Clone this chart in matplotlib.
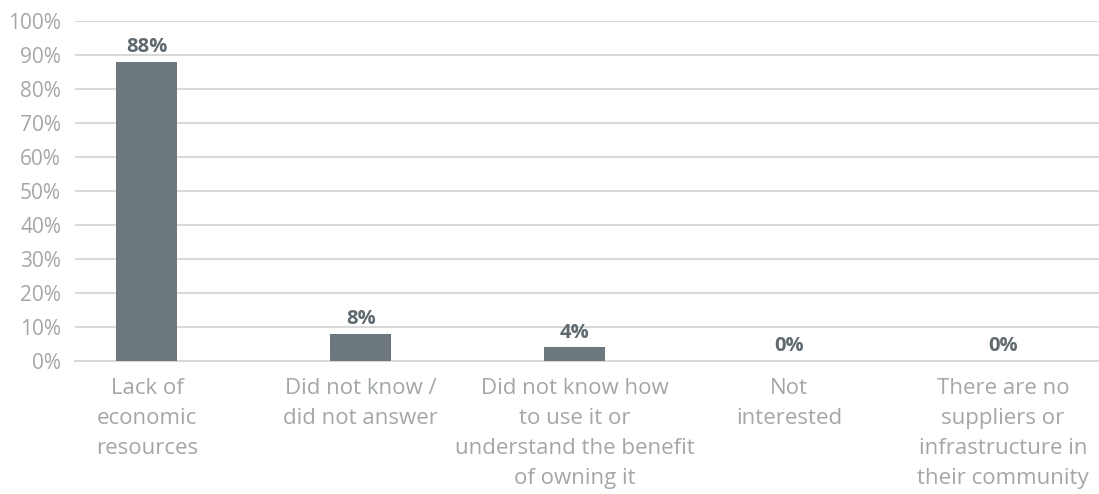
import matplotlib.pyplot as plt
import numpy as np

plt.rcParams['font.family'] = ['Open Sans', 'DejaVu Sans']

categories = ['Lack of\neconomic\nresources',
              'Did not know /\ndid not answer',
              'Did not know how\nto use it or\nunderstand the benefit\nof owning it',
              'Not\ninterested',
              'There are no\nsuppliers or\ninfrastructure in\ntheir community']
values = [0.88, 0.08, 0.04, 0.0, 0.0]
labels = ['88%', '8%', '4%', '0%', '0%']
yticks = np.arange(0, 1.01, 0.1)

bar_color = '#6d787e'
grid_color = '#d9d9d9'
tick_color = '#a3a7a9'

fig = plt.figure(figsize=(10.99, 4.94), dpi=100)
ax = fig.add_axes([75 / 1099, 133 / 494, 1024 / 1099, 340 / 494])

x = np.arange(len(categories))
ax.bar(x, values, width=0.285, color=bar_color, zorder=3)
for xi, v, lab in zip(x, values, labels):
    ax.text(xi, v + 0.014, lab, ha='center', va='bottom', fontsize=14.5,
            fontweight='bold', color='#5f6a70', zorder=4)

ax.set_ylim(0, 1)
ax.set_xlim(-0.336, 4.449)
ax.set_yticks(yticks)
ax.set_yticklabels([f'{int(round(t * 100))}%' for t in yticks])
ax.yaxis.grid(True, color=grid_color, linewidth=1.5, zorder=0)
ax.set_xticks(x)
ax.set_xticklabels(categories, linespacing=1.55, fontsize=16)
ax.tick_params(axis='both', length=0, labelcolor=tick_color)
ax.tick_params(axis='y', labelsize=15, pad=10)
ax.tick_params(axis='x', pad=12.5)
for s in ['top', 'right', 'left']:
    ax.spines[s].set_visible(False)
ax.spines['bottom'].set_color(grid_color)
ax.spines['bottom'].set_linewidth(1.5)

fig.savefig('out.png', dpi=100)
